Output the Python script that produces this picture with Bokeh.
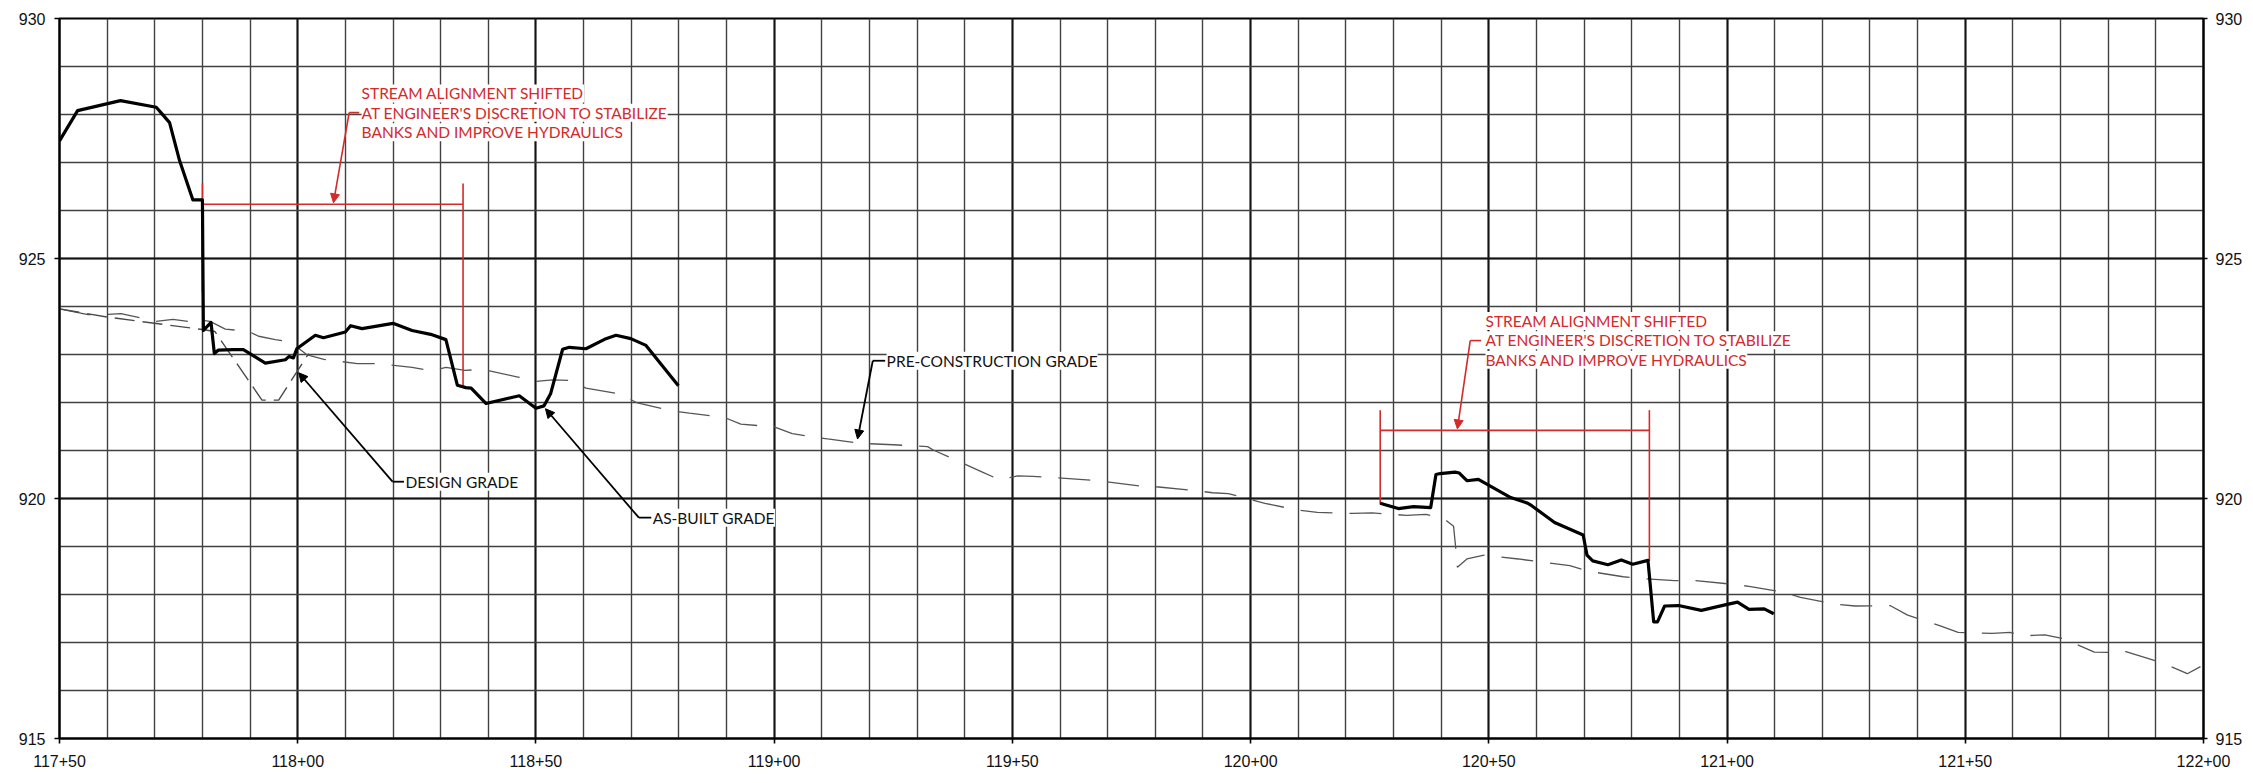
from bokeh.plotting import figure
from bokeh.models import Range1d, FixedTicker, LinearAxis, Label, Arrow, NormalHead
from bokeh.embed import file_html
from bokeh.resources import INLINE

# ---------------- data ----------------
station_ticks = [11750, 11800, 11850, 11900, 11950, 12000, 12050, 12100, 12150, 12200]
station_labels = ["117+50", "118+00", "118+50", "119+00", "119+50",
                  "120+00", "120+50", "121+00", "121+50", "122+00"]
station_grid = list(range(11750, 12201, 10))
elev_ticks = [915, 920, 925, 930]
elev_grid = list(range(915, 931, 1))

pre_sta = [11750, 11756, 11758.5, 11762.9, 11770.3, 11773.8, 11778.4, 11780.2, 11781.6,
           11784.8, 11789.7, 11791.8, 11795.3, 11798.5, 11802, 11805.5, 11812.5, 11816.7,
           11824, 11828.2, 11831.1, 11835.1, 11838.8, 11846.2, 11850, 11853.5, 11857,
           11860.5, 11867.5, 11871.3, 11878.3, 11882.2, 11889.5, 11893, 11900, 11903.8,
           11911.2, 11918, 11925, 11932.2, 11933.4, 11937, 11943.7, 11947.3, 11951.1,
           11954.3, 11958.3, 11965.6, 11969.6, 11976.8, 11980.7, 11988, 11992, 11995.3,
           11998.5, 12003, 12009.8, 12014, 12021.5, 12025.5, 12032.7, 12036.8, 12040.6,
           12042.6, 12043, 12043.4, 12045.4, 12049, 12056.2, 12060, 12067, 12071.2,
           12078.2, 12082.6, 12089, 12093.4, 12100.5, 12104.6, 12111.7, 12115.4, 12122.6,
           12126.9, 12134.2, 12137.9, 12144.9, 12148.5, 12155.7, 12159.4, 12162.4,
           12166.7, 12170.6, 12177.1, 12180.9, 12183.7, 12188.3, 12191.7, 12196.6, 12200]
pre_elev = [923.95, 923.83, 923.83, 923.85, 923.69, 923.73, 923.67, 923.71, 923.69,
            923.53, 923.48, 923.38, 923.31, 923.26, 922.99, 922.90, 922.81, 922.81,
            922.73, 922.66, 922.73, 922.67, 922.69, 922.53, 922.44, 922.47, 922.46,
            922.30, 922.18, 921.99, 921.83, 921.78, 921.69, 921.55, 921.49, 921.35,
            921.24, 921.15, 921.12, 921.08, 921.01, 920.85, 920.55, 920.39, 920.47,
            920.46, 920.44, 920.39, 920.35, 920.26, 920.24, 920.17, 920.12, 920.10,
            920.02, 919.90, 919.76, 919.71, 919.69, 919.70, 919.65, 919.67, 919.58,
            919.42, 919.02, 918.57, 918.74, 918.82, 918.74, 918.69, 918.60, 918.48,
            918.37, 918.33, 918.29, 918.29, 918.22, 918.17, 918.05, 917.94, 917.80,
            917.76, 917.77, 917.57, 917.34, 917.21, 917.19, 917.21, 917.14,
            917.16, 917.08, 916.80, 916.79, 916.81, 916.67, 916.56, 916.35, 916.53]

design_sta = [11750, 11760, 11780, 11782.6, 11792.5, 11796, 11802.3]
design_elev = [923.95, 923.78, 923.52, 923.48, 922.05, 922.05, 923.02]

asbuilt1_sta = [11750, 11753.8, 11762.8, 11770.3, 11771.2, 11773.1, 11775.2, 11778, 11780.0,
                11780.2, 11781.8, 11782.5, 11783.3, 11786.5, 11788.6, 11793.2, 11797.4,
                11798.2, 11799.1, 11799.8, 11803.7, 11805.4, 11810, 11811.1, 11813.5,
                11820, 11824, 11827.9, 11831.1, 11833.5, 11835.3, 11836.4, 11839.5,
                11846.5, 11850, 11851.7, 11853.1, 11855.6, 11857, 11860.5, 11864.7,
                11866.8, 11869.9, 11873.1, 11879.9]
asbuilt1_elev = [927.45, 928.08, 928.29, 928.15, 928.05, 927.83, 927.04, 926.22, 926.22,
                 923.50, 923.67, 923.02, 923.09, 923.10, 923.10, 922.82, 922.89,
                 922.96, 922.93, 923.12, 923.40, 923.35, 923.47, 923.60, 923.54,
                 923.65, 923.50, 923.42, 923.31, 922.36, 922.31, 922.30, 921.98,
                 922.14, 921.88, 921.93, 922.19, 923.11, 923.15, 923.12, 923.33,
                 923.40, 923.33, 923.19, 922.35]

asbuilt2_sta = [12027.2, 12031, 12034.2, 12037.8, 12038.9, 12039.8, 12042.9, 12043.8,
                12045.4, 12047.8, 12054.6, 12058.2, 12059, 12063.8, 12069.8, 12070.6,
                12071.8, 12075, 12077.8, 12080.2, 12083.4, 12084.6, 12085.4, 12086.9,
                12089.8, 12094.6, 12099.8, 12102.2, 12104.6, 12107.8, 12109.8]
asbuilt2_elev = [919.90, 919.79, 919.83, 919.81, 920.50, 920.52, 920.55, 920.53,
                 920.37, 920.40, 920.02, 919.90, 919.85, 919.50, 919.24, 918.82,
                 918.70, 918.62, 918.72, 918.63, 918.71, 917.43, 917.43, 917.76,
                 917.77, 917.67, 917.79, 917.84, 917.69, 917.70, 917.60]

note_lines = ["STREAM ALIGNMENT SHIFTED",
              "AT ENGINEER'S DISCRETION TO STABILIZE",
              "BANKS AND IMPROVE HYDRAULICS"]
callouts = ["DESIGN GRADE", "AS-BUILT GRADE", "PRE-CONSTRUCTION GRADE"]

# ---------------- annotation placement ----------------
# notes: (text left station, first line centre elev)
note_pos = [(11813.4, 928.44), (12049.3, 923.70)]
note_step = 0.405
# brackets: (left sta, right sta, top elev, bar elev, left bottom, right bottom)
brackets = [(11780.0, 11834.7, 926.56, 926.13, 924.30, 922.33),
            (12027.2, 12083.7, 921.84, 921.42, 919.88, 918.70)]
# red leaders: (tick start sta, tick end sta, elev, tip sta, tip elev)
note_leaders = [(11810.8, 11812.9, 928.04, 11807.5, 926.16),
                (12046.1, 12048.4, 923.29, 12043.4, 921.45)]
# black callout leaders: (start sta, elev, tip sta, tip elev, text sta)
callout_pos = [(11819.9, 920.35, 11800.2, 922.62, 11822.6),
               (11871.6, 919.60, 11852.0, 921.87, 11874.5),
               (11920.7, 922.87, 11917.5, 921.24, 11923.6)]

RED = "#d32a2a"
LBL_FONT = "Lato"

p = figure(width=2250, height=776,
           x_range=Range1d(11750, 12200), y_range=Range1d(915, 930),
           output_backend="svg", toolbar_location=None,
           min_border_left=59, min_border_right=47, min_border_top=18, min_border_bottom=38)
p.background_fill_color = "white"
p.border_fill_color = "white"
p.outline_line_color = "black"
p.outline_line_width = 2

# x axis
p.xaxis.ticker = FixedTicker(ticks=station_ticks, minor_ticks=station_grid)
p.xaxis.major_label_overrides = {t: s for t, s in zip(station_ticks, station_labels)}
# y axes
p.yaxis.ticker = FixedTicker(ticks=elev_ticks, minor_ticks=elev_grid)
raxis = LinearAxis(ticker=FixedTicker(ticks=elev_ticks, minor_ticks=elev_grid))
p.add_layout(raxis, "right")

for ax in [p.xaxis[0], p.yaxis[0], raxis]:
    ax.axis_line_color = "black"
    ax.axis_line_width = 2
    ax.major_tick_line_color = "black"
    ax.major_tick_line_width = 1.6
    ax.major_tick_in = 0
    ax.minor_tick_line_color = None
    ax.major_label_text_font = "Liberation Sans"
    ax.major_label_text_font_size = "16px"
    ax.major_label_text_color = "#111111"
p.xaxis.major_tick_out = 5
p.xaxis.major_label_standoff = 11
p.yaxis.major_tick_out = 5
p.yaxis.major_label_standoff = 9
raxis.major_tick_out = 4
raxis.major_label_standoff = 8

for g in [p.xgrid[0], p.ygrid[0]]:
    g.grid_line_color = "#141414"
    g.grid_line_width = 2
    g.minor_grid_line_color = "#414141"
    g.minor_grid_line_width = 1.4

# pre-construction grade (long dash, grey)
p.line(pre_sta, pre_elev, line_color="#555555", line_width=1.3, line_dash="32 17")
# design grade (shorter dash)
p.line(design_sta, design_elev, line_color="#4a4a4a", line_width=1.4, line_dash="20 8")

# red brackets
for (xl, xr, top, bar, bl, br) in brackets:
    p.segment(x0=[xl, xl, xr], y0=[top, bar, top], x1=[xl, xr, xr], y1=[bl, bar, br],
              line_color=RED, line_width=1.6)

# as-built grade
p.line(asbuilt1_sta, asbuilt1_elev, line_color="black", line_width=3.2, line_join="round")
p.line(asbuilt2_sta, asbuilt2_elev, line_color="black", line_width=3.2, line_join="round")

# red notes
for (x0, y0) in note_pos:
    for i, t in enumerate(note_lines):
        p.add_layout(Label(x=x0, y=y0 - i * note_step, text=t, text_font=LBL_FONT,
                           text_font_size="15.5px", text_color=RED, text_align="left",
                           text_baseline="middle", background_fill_color="white",
                           background_fill_alpha=1.0))
for (xs, xe, yy, xt, yt) in note_leaders:
    p.segment(x0=[xs], y0=[yy], x1=[xe], y1=[yy], line_color=RED, line_width=1.6)
    p.add_layout(Arrow(end=NormalHead(size=9, fill_color=RED, line_color=RED, line_width=1),
                       x_start=xs, y_start=yy, x_end=xt, y_end=yt,
                       line_color=RED, line_width=1.6))

# black callouts
for (xs, ys, xt, yt, xtext), t in zip(callout_pos, callouts):
    p.segment(x0=[xs], y0=[ys], x1=[xtext - 0.3], y1=[ys], line_color="black", line_width=1.8)
    p.add_layout(Arrow(end=NormalHead(size=9, fill_color="black", line_color="black", line_width=1),
                       x_start=xs, y_start=ys, x_end=xt, y_end=yt,
                       line_color="black", line_width=1.8))
    p.add_layout(Label(x=xtext, y=ys, text=t, text_font=LBL_FONT, text_font_size="15.5px",
                       text_color="#111111", text_align="left", text_baseline="middle",
                       background_fill_color="white", background_fill_alpha=1.0))

open("out.html", "w").write(file_html(p, INLINE))
